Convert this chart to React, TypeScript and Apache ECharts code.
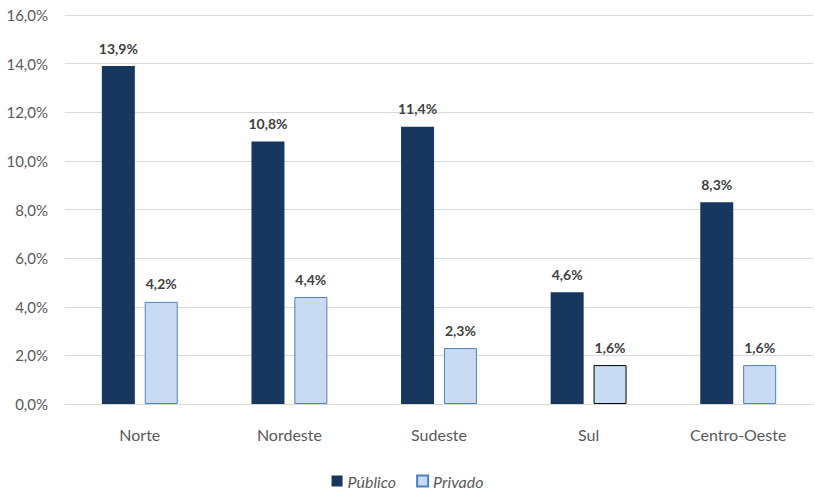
import React, { useEffect, useRef } from "react";
import * as echarts from "echarts";

const categories = ["Norte", "Nordeste", "Sudeste", "Sul", "Centro-Oeste"];
const publico = [13.9, 10.8, 11.4, 4.6, 8.3];
const privado = [4.2, 4.4, 2.3, 1.6, 1.6];
const yTicks = [0, 2, 4, 6, 8, 10, 12, 14, 16];

const fmt = (v: number) => v.toFixed(1).replace(".", ",") + "%";

export default function App() {
  const ref = useRef<HTMLDivElement>(null);
  useEffect(() => {
    if (!ref.current) return;
    const chart = echarts.init(ref.current, undefined, { renderer: "svg" });
    const font = "Lato, 'Open Sans', sans-serif";
    chart.setOption({
      animation: false,
      textStyle: { fontFamily: font },
      grid: { left: 65, right: 2, top: 15, bottom: 92 },
      legend: {
        bottom: 2,
        left: "center",
        icon: "rect",
        itemWidth: 11,
        itemHeight: 11,
        itemGap: 20,
        textStyle: { fontSize: 16, fontStyle: "italic", color: "#595959", fontFamily: font },
        data: ["Público", "Privado"],
      },
      xAxis: {
        type: "category",
        data: categories,
        axisTick: { show: false },
        axisLine: { lineStyle: { color: "#d9d9d9" } },
        axisLabel: { color: "#595959", fontSize: 16, margin: 22, fontFamily: font },
      },
      yAxis: {
        type: "value",
        min: yTicks[0],
        max: yTicks[yTicks.length - 1],
        interval: 2,
        axisLabel: { color: "#595959", fontSize: 15, margin: 17, formatter: (v: number) => fmt(v), fontFamily: font },
        splitLine: { lineStyle: { color: "#d9d9d9" } },
        axisLine: { show: false },
        axisTick: { show: false },
      },
      series: [
        {
          name: "Público",
          type: "bar",
          data: publico,
          barWidth: 33,
          barGap: "30%",
          itemStyle: { color: "#17375E" },
          label: {
            show: true,
            position: "top",
            distance: 11,
            formatter: (p: any) => fmt(p.value),
            fontWeight: "bold",
            fontSize: 14,
            color: "#404040",
            fontFamily: font,
          },
        },
        {
          name: "Privado",
          type: "bar",
          data: privado.map((v, i) => ({
            value: v,
            itemStyle: i === 3 ? { borderColor: "#000000" } : undefined,
          })),
          barWidth: 33,
          barGap: "30%",
          itemStyle: { color: "#C9DBF2", borderColor: "#4F81BD", borderWidth: 1 },
          label: {
            show: true,
            position: "top",
            distance: 11,
            formatter: (p: any) => fmt(p.value),
            fontWeight: "bold",
            fontSize: 14,
            color: "#404040",
            fontFamily: font,
          },
        },
      ],
    });
    return () => chart.dispose();
  }, []);
  return (
    <div
      ref={ref}
      style={{ position: "absolute", left: 0, top: 0, width: 815, height: 496, background: "#fff" }}
    />
  );
}
